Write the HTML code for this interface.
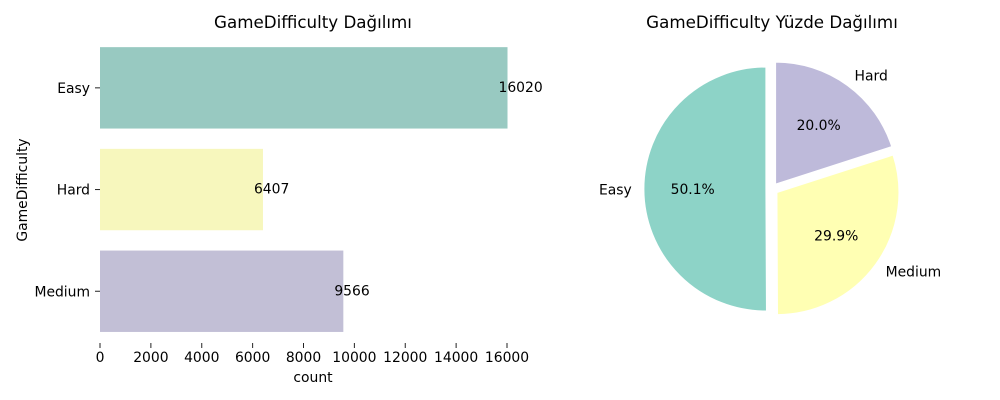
<!DOCTYPE html>
<html><head><meta charset="utf-8"><style>
body{margin:0;background:#fff;}
svg{display:block;font-family:"DejaVu Sans","Liberation Sans",sans-serif;}
</style></head><body>
<svg id="c" width="1000" height="400" viewBox="0 0 1000 400">
<text x="313" y="28" font-size="16.7" text-anchor="middle">GameDifficulty Dağılımı</text>
<text x="772" y="28" font-size="16.7" text-anchor="middle">GameDifficulty Yüzde Dağılımı</text>
<text x="313" y="382" font-size="13.9" text-anchor="middle">count</text>
<text transform="translate(27,190) rotate(-90)" font-size="13.9" text-anchor="middle">GameDifficulty</text>
<g id="bars"></g>
<g id="pie"></g>
</svg>
<script>
const categories=["Easy","Hard","Medium"];
const counts=[16020,6407,9566];
const xTicks=[0,2000,4000,6000,8000,10000,12000,14000,16000];
const pieLabels=["Easy","Medium","Hard"];
const pieValues=[16020,9566,6407];
const barColors=["#98c9c1","#f7f7bd","#c2bfd6"];
const pieColors=["#8dd3c7","#ffffb3","#bebada"];
const NS="http://www.w3.org/2000/svg";
function mk(t,a,p){const e=document.createElementNS(NS,t);for(const k in a)e.setAttribute(k,a[k]);p.appendChild(e);return e;}
const FS='13.9';
const bars=document.getElementById('bars');
const x=v=>100+v*(407/16000);
const y0=37,step=101.7;
const yc=i=>y0+step*(i+0.5);
categories.forEach((c,i)=>{
  const h=81.4;
  const r=mk('rect',{x:x(0),y:yc(i)-h/2,width:x(counts[i])-x(0),height:h,fill:barColors[i]},bars);
  
  
  const t=mk('text',{x:x(counts[i])-9,y:yc(i)+4,'font-size':FS},bars);t.textContent=counts[i];
  
  
  const tk=mk('line',{x1:95,x2:100,y1:yc(i),y2:yc(i),stroke:'#222'},bars);
  
  
  const l=mk('text',{x:90,y:yc(i)+5,'font-size':FS,'text-anchor':'end'},bars);l.textContent=c;
  
  
});
xTicks.forEach(v=>{
  const tk=mk('line',{x1:x(v),x2:x(v),y1:343,y2:348,stroke:'#222'},bars);
  
  
  const l=mk('text',{x:x(v),y:362,'font-size':FS,'text-anchor':'middle'},bars);l.textContent=v;
  
  
});
const pie=document.getElementById('pie');
const cx=772,cy=189,R=122;
const total=pieValues.reduce((a,b)=>a+b,0);
let a0=90;
pieValues.forEach((v,i)=>{
  const sweep=v/total*360,a1=a0+sweep,mid=(a0+a1)/2*Math.PI/180;
  const ox=cx+0.05*R*Math.cos(mid),oy=cy-0.05*R*Math.sin(mid);
  const p=(a)=>[ox+R*Math.cos(a*Math.PI/180),oy-R*Math.sin(a*Math.PI/180)];
  const s=p(a0),e=p(a1);
  const d=`M${ox},${oy}L${s[0]},${s[1]}A${R},${R} 0 ${sweep>180?1:0} 0 ${e[0]},${e[1]}Z`;
  const w=mk('path',{d:d,fill:pieColors[i],stroke:'#fff','stroke-width':1},pie);
  
  
  const lx=ox+1.1*R*Math.cos(mid),ly=oy-1.1*R*Math.sin(mid);
  const anchor=Math.cos(mid)<-0.01?'end':(Math.cos(mid)>0.01?'start':'middle');
  const l=mk('text',{x:lx,y:ly+5,'font-size':FS,'text-anchor':anchor},pie);l.textContent=pieLabels[i];
  
  
  const px=ox+0.6*R*Math.cos(mid),py=oy-0.6*R*Math.sin(mid);
  const t=mk('text',{x:px,y:py+5,'font-size':FS,'text-anchor':'middle'},pie);t.textContent=(v/total*100).toFixed(1)+'%';
  
  
  a0=a1;
});
</script>
</body></html>
